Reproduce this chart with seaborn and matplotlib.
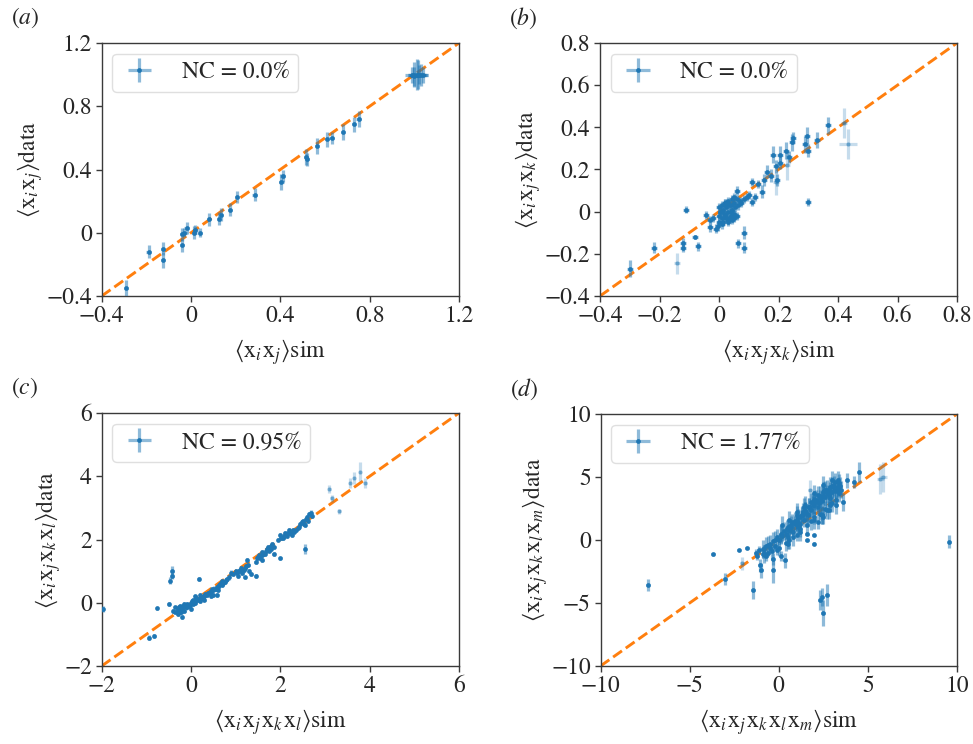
import numpy as np
import pandas as pd
import matplotlib
matplotlib.use("Agg")
import matplotlib.pyplot as plt
import seaborn as sns
from matplotlib.colors import to_rgba

# ---------------- data ----------------
# panel (a): <x_i x_j>
a_sim  = [-0.29, -0.19, -0.125, -0.125, -0.04, -0.04, -0.02, -0.03, 0.015, 0.04, 0.02,
          0.08, 0.125, 0.135, 0.175, 0.205, 0.285, 0.405, 0.41, 0.515, 0.52, 0.565,
          0.61, 0.63, 0.68, 0.73, 0.75,
          0.99, 1.0, 1.01, 1.02, 1.03, 1.04, 1.0, 1.015]
a_data = [-0.35, -0.12, -0.10, -0.17, -0.08, -0.01, 0.03, 0.0, 0.0, 0.0, 0.02,
          0.085, 0.09, 0.115, 0.145, 0.225, 0.24, 0.32, 0.36, 0.48, 0.465, 0.55,
          0.59, 0.60, 0.635, 0.685, 0.72,
          1.0, 1.0, 1.0, 1.0, 1.0, 1.0, 0.99, 1.0]
a_xerr = [0.01] * 27 + [0.03, 0.03, 0.04, 0.03, 0.03, 0.02, 0.02, 0.03]
a_yerr = [0.05, 0.04, 0.04, 0.05, 0.04, 0.04, 0.04, 0.03, 0.04, 0.03, 0.03,
          0.04, 0.04, 0.04, 0.04, 0.04, 0.04, 0.05, 0.04, 0.05, 0.04, 0.05,
          0.05, 0.04, 0.05, 0.05, 0.05,
          0.05, 0.08, 0.10, 0.06, 0.07, 0.05, 0.06, 0.09]
a_faint_sim, a_faint_data, a_faint_xerr, a_faint_yerr = [], [], [], []

# panel (b): <x_i x_j x_k>
b_sim  = [-0.30, -0.22, -0.12, -0.12, -0.11, -0.08, -0.07, -0.045, -0.03, -0.03,
          -0.005, 0.0, 0.005, 0.01, 0.015, 0.02, 0.025, 0.03, 0.03, 0.035,
          0.04, 0.045, 0.05, 0.05, 0.055, 0.06, 0.06, 0.065, 0.065, 0.07,
          0.075, 0.085, 0.085, 0.085, 0.095, 0.10, 0.11, 0.11, 0.12, 0.13,
          0.145, 0.15, 0.16, 0.175, 0.18, 0.19, 0.195, 0.205, 0.205, 0.225,
          0.235, 0.245, 0.25, 0.29, 0.295, 0.30, 0.30, 0.33, 0.365,
          0.015, 0.035, 0.045, 0.02, 0.01,
          0.0, 0.01, 0.02, 0.03, 0.04, 0.05, 0.01, 0.02, 0.03, 0.04,
          0.05, 0.06, 0.0, 0.025, 0.045, -0.02, -0.01]
b_data = [-0.27, -0.17, -0.15, -0.17, 0.01, -0.12, -0.165, -0.015, -0.04, -0.075,
          -0.07, -0.02, 0.0, -0.03, 0.01, -0.01, 0.02, -0.04, 0.0, 0.03,
          -0.02, 0.01, 0.04, -0.01, 0.02, 0.06, 0.10, 0.03, -0.15, 0.05,
          0.04, -0.10, -0.17, 0.06, 0.07, 0.08, 0.045, 0.14, 0.07, 0.13,
          0.095, 0.15, 0.19, 0.17, 0.27, 0.215, 0.15, 0.27, 0.23, 0.29,
          0.26, 0.33, 0.35, 0.32, 0.36, 0.29, 0.045, 0.34, 0.41,
          -0.05, -0.03, 0.06, 0.04, -0.06,
          0.02, 0.03, -0.02, -0.05, 0.0, -0.03, 0.0, 0.04, 0.05, 0.03,
          0.07, -0.02, -0.05, -0.03, -0.04, -0.03, -0.08]
b_xerr = [0.01] * 81
b_yerr = [0.04, 0.025, 0.025, 0.02, 0.015, 0.01, 0.02, 0.02, 0.02, 0.02,
          0.02, 0.02, 0.02, 0.02, 0.02, 0.02, 0.02, 0.02, 0.02, 0.02,
          0.02, 0.02, 0.02, 0.02, 0.02, 0.02, 0.02, 0.02, 0.02, 0.02,
          0.02, 0.03, 0.025, 0.02, 0.02, 0.02, 0.02, 0.02, 0.02, 0.02,
          0.03, 0.03, 0.03, 0.03, 0.04, 0.03, 0.03, 0.04, 0.03, 0.04,
          0.03, 0.04, 0.03, 0.04, 0.04, 0.03, 0.02, 0.04, 0.04,
          0.02, 0.02, 0.02, 0.02, 0.02] + [0.02] * 17
b_faint_sim  = [-0.14, 0.19, 0.23, 0.42, 0.435]
b_faint_data = [-0.245, 0.14, 0.22, 0.42, 0.32]
b_faint_xerr = [0.01, 0.01, 0.01, 0.01, 0.03]
b_faint_yerr = [0.05, 0.06, 0.07, 0.07, 0.07]

# panel (c): <x_i x_j x_k x_l>
c_sim  = [-1.97, -0.95, -0.82, -0.76, -0.50, -0.47, -0.42, -0.42,
          -0.40, -0.35, -0.30, -0.30, -0.25, -0.25, -0.20, -0.20, -0.15, -0.15,
          -0.10, -0.05, 0.00, 0.00, 0.05, 0.05, 0.10, 0.10, 0.15, 0.20, 0.20,
          0.25, 0.30, 0.30, 0.35, 0.40, 0.45, 0.50, 0.50, 0.55, 0.60, 0.60,
          0.65, 0.70, 0.70, 0.75, 0.80, 0.17, 0.58, 0.45,
          0.95, 1.00, 1.05, 1.10, 1.15, 1.20, 1.25, 1.30, 1.35, 1.45, 1.20,
          1.45, 1.50, 1.55, 1.60, 1.65, 1.70, 1.75, 1.80, 1.85, 1.85, 1.60, 2.00,
          1.95, 2.00, 2.05, 2.10, 2.15, 2.20, 2.25, 2.30, 2.40, 2.45, 2.50,
          2.55, 2.60, 2.65, 2.70, 2.55]
c_data = [-0.20, -1.10, -1.06, -0.17, -0.04, 0.70, 1.00, 0.85,
          -0.25, -0.15, -0.35, -0.20, -0.10, -0.30, -0.45, -0.20, -0.05, -0.25,
          -0.15, -0.10, 0.00, -0.20, 0.10, -0.05, 0.00, 0.20, 0.10, 0.05, 0.25,
          0.15, 0.20, 0.10, 0.25, 0.30, 0.35, 0.40, 0.25, 0.45, 0.50, 0.40,
          0.60, 0.55, 0.70, 0.65, 0.75, 0.75, 0.25, 0.20,
          0.90, 1.00, 0.85, 1.05, 0.95, 1.10, 1.35, 1.00, 0.90, 0.85, 0.80,
          1.30, 1.45, 1.40, 1.60, 1.55, 1.70, 1.65, 1.80, 1.75, 1.55, 1.35, 1.40,
          2.00, 2.15, 2.05, 2.20, 2.10, 2.30, 2.15, 2.25, 2.35, 2.50, 2.60,
          2.45, 2.70, 2.80, 2.75, 1.70]
c_xerr = [0.03] * 87
c_yerr = [0.10, 0.08, 0.06, 0.05, 0.05, 0.12, 0.15, 0.10] + [0.06] * 78 + [0.15]
# extra points of the dense band along the diagonal in (c)
c_band_sim  = [-0.35, -0.30, -0.28, -0.22, -0.18, -0.12, -0.08, -0.02, 0.02, 0.08,
               0.12, 0.18, 0.22, 0.28, 0.32, 0.38, 0.42, 0.48, 0.52, 0.58,
               0.62, 0.68, 0.72, 0.78, 0.85, 0.90, 1.02, 1.08, 1.12, 1.18,
               1.22, 1.28, 1.48, 1.52, 1.58, 1.62, 1.68, 1.72, 1.78, 1.82,
               2.02, 2.08, 2.12, 2.18, 2.22, 2.28, 2.35, 2.42, 2.48, 2.52,
               2.58, 2.62, 2.68]
c_band_data = [-0.30, -0.25, -0.15, -0.30, -0.10, -0.15, -0.05, -0.08, 0.05, 0.05,
               0.15, 0.12, 0.18, 0.22, 0.28, 0.30, 0.35, 0.42, 0.45, 0.50,
               0.55, 0.62, 0.62, 0.72, 0.80, 0.95, 0.95, 1.00, 1.10, 1.05,
               1.15, 1.20, 1.40, 1.50, 1.50, 1.55, 1.65, 1.75, 1.70, 1.85,
               2.05, 2.10, 2.15, 2.20, 2.20, 2.30, 2.30, 2.40, 2.55, 2.50,
               2.65, 2.60, 2.85]
c_band_xerr = [0.03] * 53
c_band_yerr = [0.07] * 53
c_faint_sim  = [3.10, 3.15, 3.32, 3.56, 3.65, 3.78, 3.90]
c_faint_data = [3.60, 3.30, 2.90, 3.78, 3.95, 4.15, 3.78]
c_faint_xerr = [0.03] * 7
c_faint_yerr = [0.12, 0.10, 0.08, 0.15, 0.20, 0.30, 0.15]

# panel (d): <x_i x_j x_k x_l x_m>
d_sim  = [-7.35, -3.70, -3.00, -2.25, -1.78, -1.45,
          -1.30, -1.20, -1.10, -1.05, -1.00, -0.90, -0.80, -0.70, -0.60, -0.50,
          -0.30, -0.35, -0.20, -0.10, 0.00, 0.10, 0.20, 0.35, 0.40, 0.50, 0.60,
          0.70, 0.80, 0.90, 1.00, 1.10, 1.20, 1.20, 1.30, 1.40, 1.50, 1.58, 1.58,
          1.60, 1.70, 1.80, 1.90, 1.95, 1.95, 2.00, 2.10, 2.20, 2.30, 2.40, 2.50,
          2.60, 2.70, 2.80, 2.90, 3.00, 3.10, 3.20, 3.30, 3.40, 2.00, 2.30, 2.60,
          2.90, 3.20, 1.00, 0.50, 2.20, 2.50,
          2.32, 2.47, 2.70, 2.40, 3.82, 4.20, 4.53, 9.57]
d_data = [-3.57, -1.15, -3.10, -0.80, -0.65, -3.95,
          -1.00, -1.30, -0.80, -2.00, -2.40, -1.10, -0.70, -1.30, -1.00, -0.60,
          -2.40, -1.50, -0.50, -0.80, 0.00, -1.30, 0.30, -1.60, 0.50, 0.20, 0.80,
          1.00, 0.60, 1.30, 1.50, 1.00, 1.80, 1.30, 2.00, 1.60, 2.30, 0.50, 0.00,
          2.10, 2.60, 2.40, 3.00, -0.28, 0.40, 2.80, 3.20, 2.60, 3.50, 3.10, 3.80,
          3.40, 4.00, 3.60, 4.20, 3.80, 4.30, 3.90, 4.10, 3.70, 1.80, 2.10, 2.50,
          2.80, 3.20, 0.40, -0.30, 1.40, 1.80,
          -4.76, -5.80, -4.36, -4.50, 4.73, 4.60, 5.40, -0.14]
d_xerr = [0.10] * 77
d_yerr = [0.50, 0.15, 0.45, 0.10, 0.10, 0.70,
          0.30, 0.30, 0.30, 0.50, 0.60, 0.30, 0.30, 0.40, 0.30, 0.30,
          1.00, 0.50, 0.30, 0.40, 0.40, 0.40, 0.40, 0.60, 0.50, 0.40, 0.50,
          0.50, 0.50, 0.60, 0.60, 0.50, 0.60, 0.50, 0.60, 0.60, 0.70, 0.10, 0.10,
          0.70, 0.70, 0.60, 0.70, 0.10, 0.10, 0.70, 0.80, 0.70, 0.80, 0.70, 0.80,
          0.70, 0.80, 0.70, 0.80, 0.70, 0.80, 0.70, 0.70, 0.70, 0.50, 0.50, 0.60,
          0.60, 0.60, 0.50, 0.40, 0.50, 0.50,
          0.80, 1.00, 0.90, 0.70, 0.60, 0.50, 0.80, 0.50]
# extra points of the dense band in (d)
d_band_sim  = [-0.9, -0.7, -0.5, -0.3, -0.1, 0.1, 0.3, 0.5, 0.7, 0.9,
               1.1, 1.3, 1.5, 1.7, 1.9, 2.1, 2.3, 2.5, 2.7, 2.9, 3.1, 3.3, 3.5,
               -0.8, -0.4, 0.0, 0.4, 0.8, 1.2, 1.6, 2.0, 2.4, 2.8, 3.2, 3.6,
               0.2, 0.6, 1.0, 1.4, 1.8, 2.2, 2.6, 3.0, 3.4,
               -0.6, -0.2, 0.15, 0.45, 0.75, 1.05, 1.35, 1.65, 1.95, 2.25,
               2.55, 2.85, 3.15, 3.45,
               1.0, 1.5, 2.0, 2.5, 3.0, 3.3,
               0.6, 1.2, 1.8, 2.4, 2.7, 3.0]
d_band_data = [-0.7, -0.5, -0.3, -0.1, 0.2, 0.4, 0.7, 1.0, 1.2, 1.5,
               1.8, 2.0, 2.3, 2.6, 2.8, 3.0, 3.3, 3.5, 3.7, 3.9, 4.0, 4.2, 4.0,
               -1.1, -0.9, -0.6, -0.2, 0.2, 0.6, 1.2, 1.6, 2.0, 2.4, 2.8, 3.0,
               1.2, 1.6, 2.2, 2.6, 3.0, 3.6, 4.0, 4.3, 4.5,
               -0.4, 0.0, 0.5, 0.9, 1.4, 1.4, 2.2, 2.0, 3.2, 2.9,
               3.9, 3.3, 4.6, 4.3,
               2.0, 2.8, 3.7, 4.4, 4.8, 4.8,
               0.0, 0.9, 1.5, 2.0, 2.4, 2.9]
d_band_xerr = [0.10] * 70
d_band_yerr = [0.70] * 70
d_faint_sim  = [5.69, 5.87, -2.05, 1.76]
d_faint_data = [4.86, 5.00, -1.85, 3.94]
d_faint_xerr = [0.20, 0.20, 0.10, 0.10]
d_faint_yerr = [1.20, 1.20, 0.50, 0.80]

nc_labels = ["NC = 0.0%", "NC = 0.0%", "NC = 0.95%", "NC = 1.77%"]
panel_tags = ["a", "b", "c", "d"]
limits = [(-0.4, 1.2), (-0.4, 0.8), (-2, 6), (-10, 10)]
ticks = [[-0.4, 0, 0.4, 0.8, 1.2],
         [-0.4, -0.2, 0, 0.2, 0.4, 0.6, 0.8],
         [-2, 0, 2, 4, 6],
         [-10, -5, 0, 5, 10]]
tick_labels = [["\u22120.4", "0", "0.4", "0.8", "1.2"],
               ["\u22120.4", "\u22120.2", "0", "0.2", "0.4", "0.6", "0.8"],
               ["\u22122", "0", "2", "4", "6"],
               ["\u221210", "\u22125", "0", "5", "10"]]
sp = r"\hspace{0.07}"
xlabels = [r"$\langle\mathrm{x}_i" + sp + r"\mathrm{x}_j\rangle$sim",
           r"$\langle\mathrm{x}_i" + sp + r"\mathrm{x}_j" + sp + r"\mathrm{x}_k\rangle$sim",
           r"$\langle\mathrm{x}_i" + sp + r"\mathrm{x}_j" + sp + r"\mathrm{x}_k" + sp
           + r"\mathrm{x}_l\rangle$sim",
           r"$\langle\mathrm{x}_i" + sp + r"\mathrm{x}_j" + sp + r"\mathrm{x}_k" + sp
           + r"\mathrm{x}_l" + sp + r"\mathrm{x}_m\rangle$sim"]
ylabels = [l.replace("sim", "data") for l in xlabels]

main_sets = [(a_sim, a_data, a_xerr, a_yerr),
             (b_sim, b_data, b_xerr, b_yerr),
             (c_sim + c_band_sim, c_data + c_band_data,
              c_xerr + c_band_xerr, c_yerr + c_band_yerr),
             (d_sim + d_band_sim, d_data + d_band_data,
              d_xerr + d_band_xerr, d_yerr + d_band_yerr)]
faint_sets = [(a_faint_sim, a_faint_data, a_faint_xerr, a_faint_yerr),
              (b_faint_sim, b_faint_data, b_faint_xerr, b_faint_yerr),
              (c_faint_sim, c_faint_data, c_faint_xerr, c_faint_yerr),
              (d_faint_sim, d_faint_data, d_faint_xerr, d_faint_yerr)]

# ---------------- style ----------------
sns.set_style("white")
plt.rcParams["font.family"] = ["STIXGeneral", "DejaVu Serif"]
plt.rcParams["mathtext.fontset"] = "stix"
plt.rcParams["font.size"] = 17

blue = "#1f77b4"
orange = "#ff7f0e"
spine_col = "#3a3a3a"
FS = 17

fig = plt.figure(figsize=(9.73, 7.44), dpi=100)
W, H = 973, 744
boxes = [(101.7, 43, 459, 296), (600, 43, 957, 296),
         (101.7, 413, 459, 666), (600.5, 414, 957, 666)]

for i in range(4):
    l, t, r, b = boxes[i]
    ax = fig.add_axes([l / W, 1 - b / H, (r - l) / W, (b - t) / H])
    lo, hi = limits[i]
    diag = pd.DataFrame({"sim": [lo, hi], "data": [lo, hi]})
    sns.lineplot(data=diag, x="sim", y="data", ax=ax, color=orange,
                 linestyle="--", linewidth=2.1, zorder=1)

    fx, fy, fxe, fye = faint_sets[i]
    if len(fx):
        ax.errorbar(fx, fy, xerr=fxe, yerr=fye, fmt="o", ms=3, mew=0,
                    color=to_rgba(blue, 0.45), ecolor=to_rgba(blue, 0.25),
                    elinewidth=2.3, zorder=2)
    mx, my, mxe, mye = main_sets[i]
    ax.errorbar(mx, my, xerr=mxe, yerr=mye, fmt="o", ms=3.4, mew=0,
                color=blue, ecolor=to_rgba(blue, 0.5), elinewidth=2.3,
                zorder=3, label=nc_labels[i])

    ax.set_xlim(lo, hi)
    ax.set_ylim(lo, hi)
    ax.set_xticks(ticks[i])
    ax.set_xticklabels(tick_labels[i])
    ax.set_yticks(ticks[i])
    ax.set_yticklabels(tick_labels[i])
    ax.tick_params(direction="out", length=4, width=1, color=spine_col,
                   labelsize=FS, pad=3, bottom=True, left=True)
    for s in ax.spines.values():
        s.set_color(spine_col)
        s.set_linewidth(1.0)
    ax.set_xlabel(xlabels[i], fontsize=FS, labelpad=7)
    ax.set_ylabel(ylabels[i], fontsize=FS, labelpad=1)
    ax.legend(loc="upper left", fontsize=FS, handlelength=1.6,
              borderpad=0.35, handletextpad=1.0, borderaxespad=0.45,
              framealpha=0.8, edgecolor="#d8d8d8")
    fig.text((l - 91) / W, 1 - (t - 25) / H, "($\\mathit{" + panel_tags[i] + "}$)",
             fontsize=FS, va="center", ha="left")

fig.savefig("out.png", dpi=100, facecolor="white")
